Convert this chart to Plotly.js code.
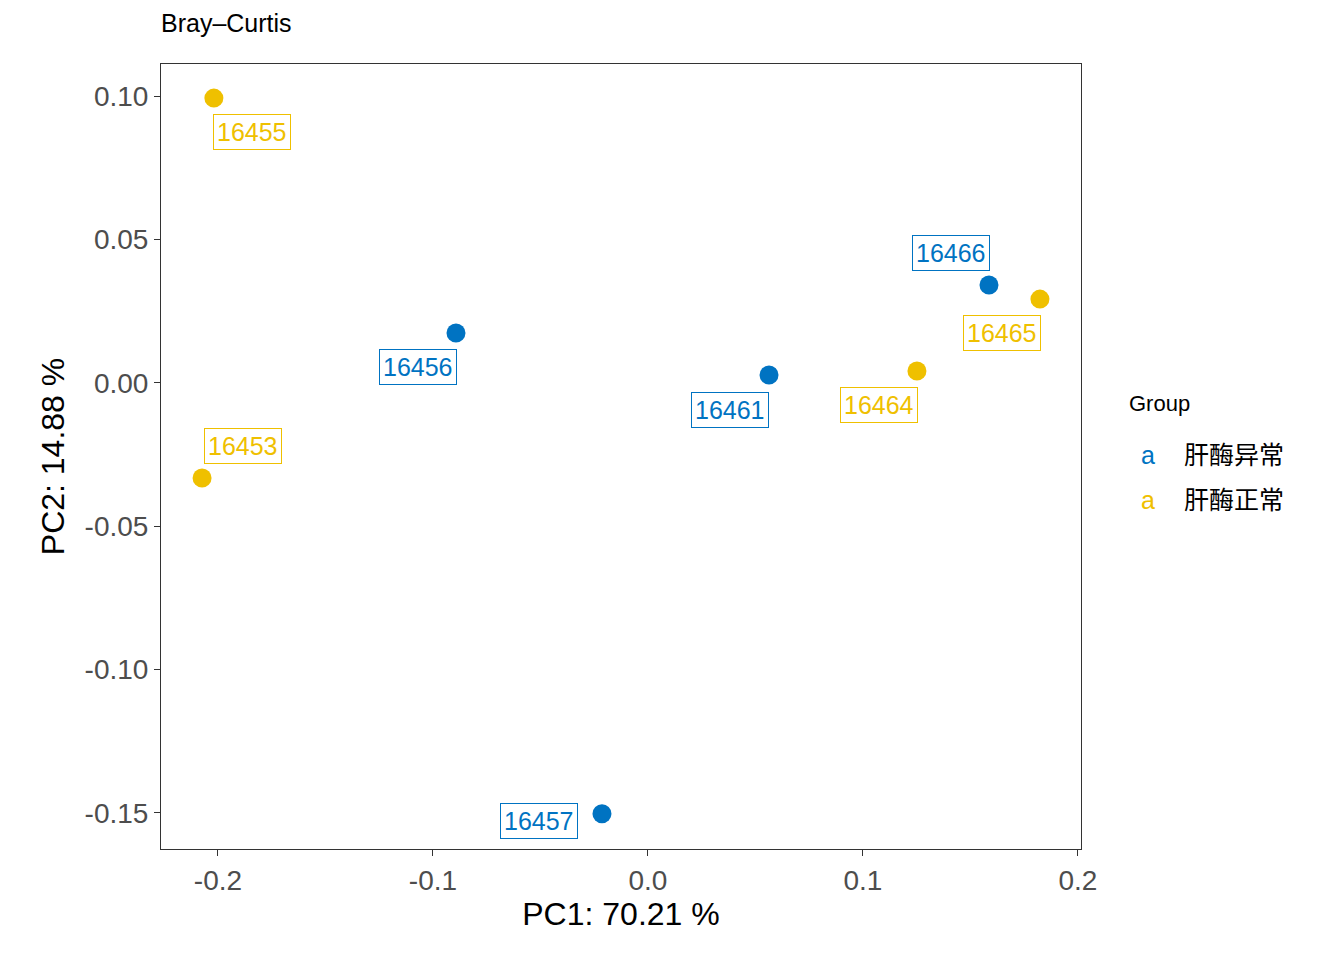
<!DOCTYPE html>
<html>
<head>
<meta charset="utf-8">
<script src="https://cdn.plot.ly/plotly-3.0.1.min.js"></script>
<style>body{margin:0;background:#fff}</style>
</head>
<body>
<div id="divGraph" style="width:1344px;height:960px"></div>
<script>
var samples = ['16455','16466','16465','16456','16461','16464','16453','16457'];
var groups  = ['肝酶正常','肝酶异常','肝酶正常','肝酶异常','肝酶异常','肝酶正常','肝酶正常','肝酶异常'];
var pc1 = [-0.2019, 0.1586, 0.1823, -0.0893, 0.0563, 0.1251, -0.2074, -0.0214];
var pc2 = [0.0993, 0.0341, 0.0292, 0.0174, 0.0027, 0.0041, -0.0332, -0.1503];
// label offsets from the point, in pixels
var labDx = [38, -38, -38, -38, -39, -38, 41, -63];
var labDy = [34, -32, 34, 34, 35, 34, -32, 7];
var groupNames = ['肝酶异常','肝酶正常'];
var colors = {'肝酶异常':'#0073C2','肝酶正常':'#EFC000'};
var font = '"Liberation Sans", "Noto Sans CJK SC", sans-serif';

var data = [];
groupNames.forEach(function(g){
  var x=[], y=[];
  for (var i=0;i<samples.length;i++) if (groups[i]==g){ x.push(pc1[i]); y.push(pc2[i]); }
  data.push({x:x, y:y, type:'scatter', mode:'markers', name:g, showlegend:false,
    marker:{color:colors[g], size:19}});
});

var ann = [];
for (var i=0;i<samples.length;i++){
  ann.push({x:pc1[i], y:pc2[i], xref:'x', yref:'y', text:samples[i],
    showarrow:true, arrowcolor:'rgba(0,0,0,0)', arrowwidth:0.1, ax:labDx[i], ay:labDy[i],
    font:{family:font, size:25, color:colors[groups[i]]},
    bordercolor:colors[groups[i]], borderwidth:1, borderpad:3, bgcolor:'#fff'});
}
ann.push({xref:'paper', yref:'paper', x:1.05, y:0.567, xanchor:'left', text:'Group', showarrow:false,
  font:{family:font, size:22, color:'#000'}});
groupNames.forEach(function(g, k){
  var yy = 0.502 - k*0.058;
  ann.push({xref:'paper', yref:'paper', x:1.063, y:yy, xanchor:'left', text:'a', showarrow:false,
    font:{family:font, size:25, color:colors[g]}});
  ann.push({xref:'paper', yref:'paper', x:1.11, y:yy, xanchor:'left', text:g, showarrow:false,
    font:{family:font, size:25, color:'#000'}});
});

var layout = {
  width:1344, height:960,
  margin:{l:161, r:263, t:64, b:111},
  paper_bgcolor:'#fff', plot_bgcolor:'#fff',
  title:{text:'Bray\u2013Curtis', x:161/1344, xanchor:'left', y:0.985, yanchor:'top',
    font:{family:font, size:25, color:'#000'}},
  xaxis:{range:[-0.2265,0.2014], tickvals:[-0.2,-0.1,0,0.1,0.2], ticktext:['-0.2','-0.1','0.0','0.1','0.2'],
    showgrid:false, zeroline:false, showline:true, mirror:true, linecolor:'#333', linewidth:1,
    ticks:'outside', ticklen:6, tickcolor:'#333', tickfont:{family:font, size:28, color:'#4D4D4D'},
    title:{text:'PC1: 70.21 %', font:{family:font, size:32, color:'#000'}, standoff:8}},
  yaxis:{range:[-0.1626,0.1112], tickvals:[-0.15,-0.1,-0.05,0,0.05,0.1],
    ticktext:['-0.15','-0.10','-0.05','0.00','0.05','0.10'],
    showgrid:false, zeroline:false, showline:true, mirror:true, linecolor:'#333', linewidth:1,
    ticks:'outside', ticklen:6, tickcolor:'#333', tickfont:{family:font, size:28, color:'#4D4D4D'},
    title:{text:'PC2: 14.88 %', font:{family:font, size:32, color:'#000'}, standoff:10}},
  annotations:ann
};
Plotly.newPlot('divGraph', data, layout, {displayModeBar:false});
</script>
</body>
</html>
